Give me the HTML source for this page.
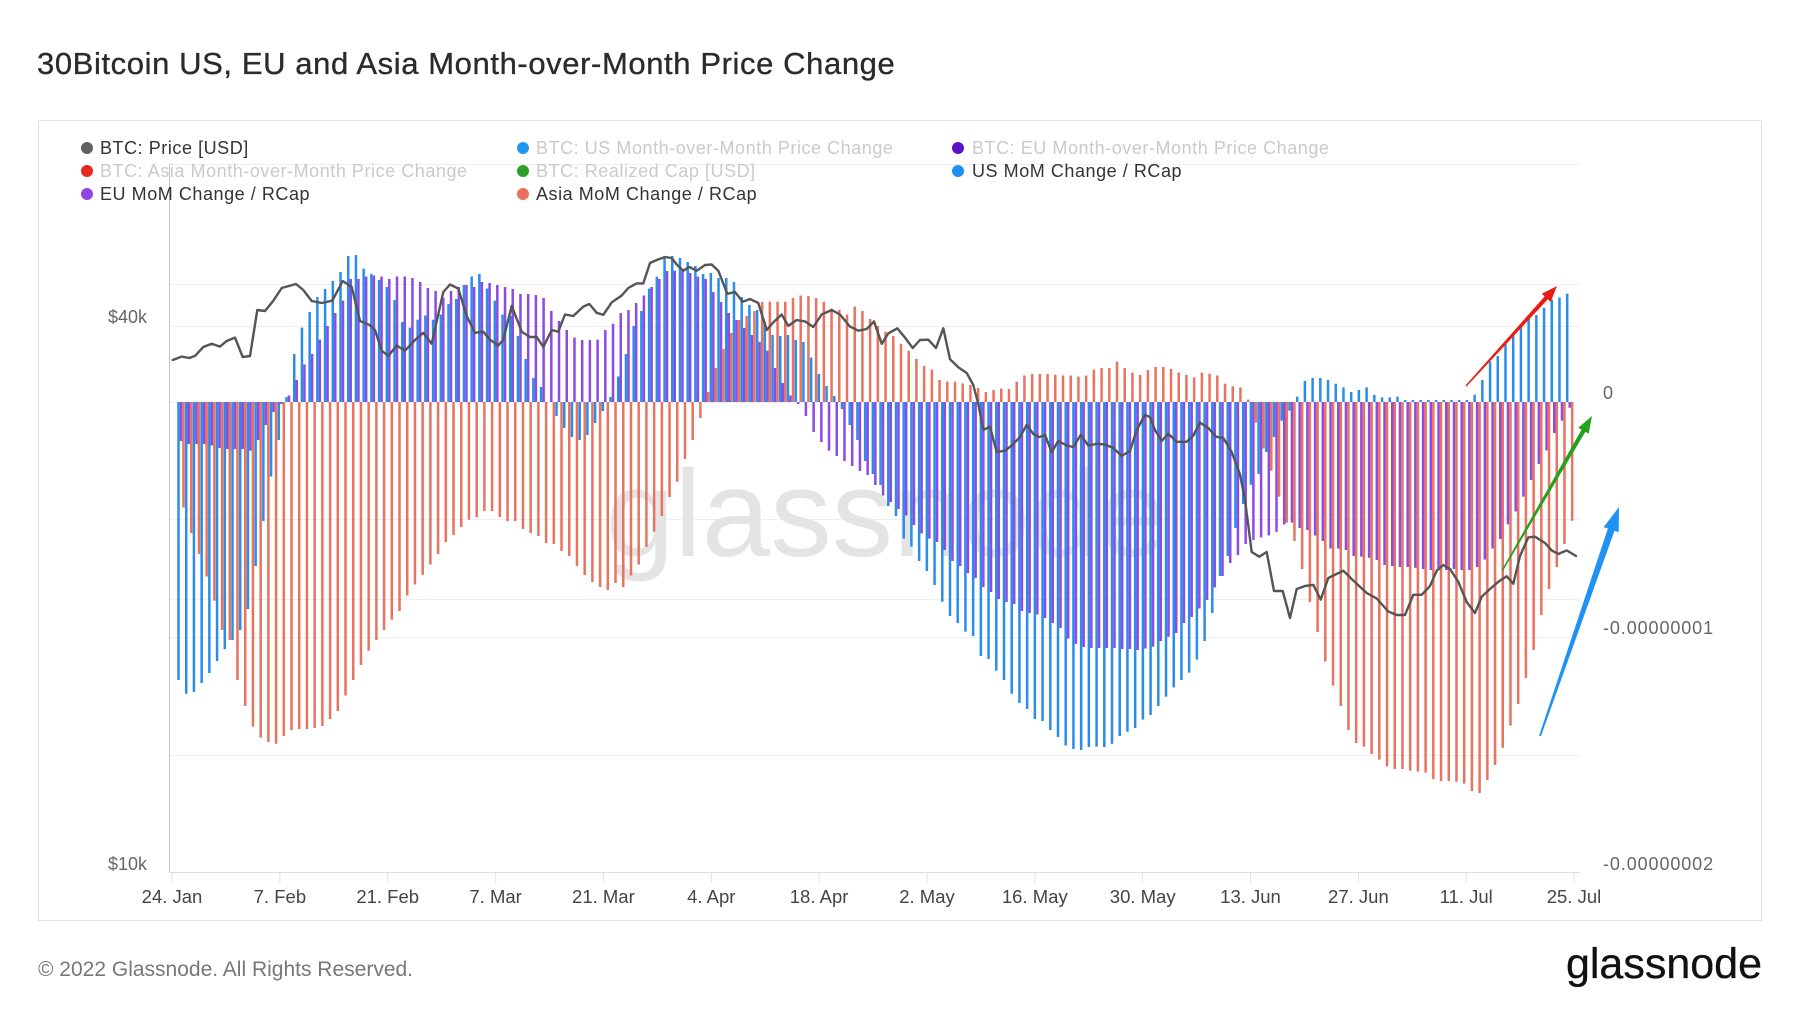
<!DOCTYPE html>
<html><head><meta charset="utf-8">
<style>
html,body{margin:0;padding:0;background:#fff;}
svg{display:block;}
text{font-family:"Liberation Sans",Arial,sans-serif;}
</style></head>
<body>
<svg id="c" xmlns="http://www.w3.org/2000/svg" width="1800" height="1013" viewBox="0 0 1800 1013">
<rect width="1800" height="1013" fill="#fff"/>
<text x="37" y="74" font-size="31" fill="#2b2b2b" letter-spacing="0.6" stroke="#2b2b2b" stroke-width="0.35">30Bitcoin US, EU and Asia Month-over-Month Price Change</text>
<rect x="38.5" y="120.5" width="1723" height="800" fill="none" stroke="#e2e2e2"/>
<g stroke="#efefef" stroke-width="1">
 <line x1="169" x2="1580" y1="164.5" y2="164.5"/>
 <line x1="169" x2="1580" y1="284.5" y2="284.5"/>
 <line x1="169" x2="1580" y1="326.5" y2="326.5"/>
 <line x1="169" x2="1580" y1="402.5" y2="402.5"/>
 <line x1="169" x2="1580" y1="519.5" y2="519.5"/>
 <line x1="169" x2="1580" y1="599.5" y2="599.5"/>
 <line x1="169" x2="1580" y1="637.5" y2="637.5"/>
 <line x1="169" x2="1580" y1="755.5" y2="755.5"/>
</g>
<text x="606" y="556" font-size="123" fill="#e4e4e4">glassnode</text>
<g id="bars"></g>
<polyline fill="none" stroke="#555" stroke-width="2.4" stroke-linejoin="round" stroke-linecap="round" points="172.7,360 181.7,356.6 189.3,358 195,355.9 203.3,347 211.7,343.8 220,346.6 226.7,341 235,337.6 242.7,357 250,356 257.3,310 265,311 273.3,300.7 281.7,288 296,284 303.3,290 311.7,301 321.7,303 332.3,300.7 342.7,281 351.7,287 360,321 369.3,324.8 375,330 381.7,350.7 388.3,356 396.7,345.5 405,350.7 415,340 423.3,332.8 431.7,343.8 443.3,292 450,284.5 458.3,288.6 466.7,316 475,332.8 483.3,331.7 490,339.7 498.3,345.5 503.3,339.7 511.7,305.9 521.7,331.7 530,337 536.7,337 543.3,347 551.7,330 558.3,331.7 565,314.5 573.3,316 583.3,306.6 589.3,304 596.7,312.8 603.3,314.8 611.7,302.4 621.7,295.5 628.3,288 636.7,283.4 643.3,283.4 650,263 656.7,260 665,257 671.7,258 676.7,264.5 683.3,270.7 689.3,267 696.7,270.7 705,265 711.7,264.5 718.3,270.7 727.3,293.8 735,292 742.7,301.7 750,299 758.3,303 766.7,330 773.3,322.4 781.7,314.5 788.3,325.9 796.7,320 805,321.4 813.3,327 821.7,314.5 831.7,310 840,314.5 850,326.6 858.3,330.7 866.7,329 874,321.4 881.7,343.8 888.3,333.4 897.3,328.3 905,337.6 912.7,348 920,340 928.3,339.7 936,348 943.3,328.3 950,359.3 958.3,367.2 966.7,373 973.3,385 978.3,404 983.3,430 990,426.6 996.7,452 1005,450.7 1011.7,445.5 1020,437 1026.7,424.8 1033.3,434 1039.3,437 1045,435 1051.7,452 1058.3,441 1066.7,445.5 1073.3,447 1080.7,435 1088.3,445.5 1096.7,443.8 1105,444.5 1113.3,448 1121.7,455.9 1130,451 1136.7,430 1145,415 1150,417 1155,430 1161.7,441 1168.3,433.7 1176.7,441.8 1186.7,441.8 1193.3,435.6 1200,422.6 1208.3,428 1216,436.7 1223.3,438 1231.7,452 1240,474.4 1245,500 1251.7,552 1259.3,556.7 1266.7,552 1274,591 1282.7,591 1290,618 1296.7,589 1305,586 1313.3,584.8 1320.7,599.6 1328.3,578 1343.3,570.7 1352.7,580 1366.7,593 1376.7,598.5 1388.3,611.5 1396.7,615 1405,615 1413.3,594.8 1421.7,594.8 1430,586 1436.7,570.7 1443.3,565 1450,569 1458.3,581.8 1466.7,602 1475,613 1481.7,596.7 1490,589 1498.3,581.8 1506.7,576.3 1513.3,583.7 1520,556 1528.3,537.4 1535,536.7 1545,543 1551.7,550.4 1558.3,554 1566.7,550.4 1576,556"/>
<line x1="169.5" x2="169.5" y1="164" y2="872" stroke="#c4c4c4" stroke-width="1"/>
<line x1="169" x2="1580" y1="872.5" y2="872.5" stroke="#dcdcdc" stroke-width="1"/>
<g stroke="#e2e2e2" stroke-width="1">
 <line x1="172" x2="172" y1="873" y2="883"/>
 <line x1="279.9" x2="279.9" y1="873" y2="883"/>
 <line x1="387.7" x2="387.7" y1="873" y2="883"/>
 <line x1="495.6" x2="495.6" y1="873" y2="883"/>
 <line x1="603.4" x2="603.4" y1="873" y2="883"/>
 <line x1="711.3" x2="711.3" y1="873" y2="883"/>
 <line x1="819.1" x2="819.1" y1="873" y2="883"/>
 <line x1="927" x2="927" y1="873" y2="883"/>
 <line x1="1034.8" x2="1034.8" y1="873" y2="883"/>
 <line x1="1142.7" x2="1142.7" y1="873" y2="883"/>
 <line x1="1250.5" x2="1250.5" y1="873" y2="883"/>
 <line x1="1358.4" x2="1358.4" y1="873" y2="883"/>
 <line x1="1466.2" x2="1466.2" y1="873" y2="883"/>
 <line x1="1574" x2="1574" y1="873" y2="883"/>
</g>
<g font-size="18.5" fill="#444" text-anchor="middle">
 <text x="172" y="903">24. Jan</text>
 <text x="279.9" y="903">7. Feb</text>
 <text x="387.7" y="903">21. Feb</text>
 <text x="495.6" y="903">7. Mar</text>
 <text x="603.4" y="903">21. Mar</text>
 <text x="711.3" y="903">4. Apr</text>
 <text x="819.1" y="903">18. Apr</text>
 <text x="927" y="903">2. May</text>
 <text x="1034.8" y="903">16. May</text>
 <text x="1142.7" y="903">30. May</text>
 <text x="1250.5" y="903">13. Jun</text>
 <text x="1358.4" y="903">27. Jun</text>
 <text x="1466.2" y="903">11. Jul</text>
 <text x="1574" y="903">25. Jul</text>
</g>
<g font-size="18" fill="#666" text-anchor="end">
 <text x="147" y="323">$40k</text>
 <text x="147" y="870">$10k</text>
</g>
<g font-size="18" fill="#666" letter-spacing="0.9">
 <text x="1603" y="399">0</text>
 <text x="1603" y="634">-0.00000001</text>
 <text x="1603" y="870">-0.00000002</text>
</g>
<g font-size="18" letter-spacing="0.55">
 <circle cx="87" cy="148" r="6" fill="#616161"/>
 <text x="100" y="154" fill="#333">BTC: Price [USD]</text>
 <circle cx="523" cy="148" r="6" fill="#2196f3"/>
 <text x="536" y="154" fill="#cacaca">BTC: US Month-over-Month Price Change</text>
 <circle cx="958" cy="148" r="6" fill="#5a12c8"/>
 <text x="972" y="154" fill="#cacaca">BTC: EU Month-over-Month Price Change</text>
 <circle cx="87" cy="171" r="6" fill="#e8281c"/>
 <text x="100" y="177" fill="#cacaca">BTC: Asia Month-over-Month Price Change</text>
 <circle cx="523" cy="171" r="6" fill="#2ca02c"/>
 <text x="536" y="177" fill="#cacaca">BTC: Realized Cap [USD]</text>
 <circle cx="958" cy="171" r="6" fill="#1e8ff5"/>
 <text x="972" y="177" fill="#333">US MoM Change / RCap</text>
 <circle cx="87" cy="194" r="6" fill="#9245e5"/>
 <text x="100" y="200" fill="#333">EU MoM Change / RCap</text>
 <circle cx="523" cy="194" r="6" fill="#ec6f5c"/>
 <text x="536" y="200" fill="#333">Asia MoM Change / RCap</text>
</g>
<g id="arrows"></g>
<text x="38" y="976" font-size="21" fill="#777">© 2022 Glassnode. All Rights Reserved.</text>
<text x="1762" y="978" font-size="43" fill="#111" text-anchor="end" stroke="#111" stroke-width="0.3">glassnode</text>
</svg>
<script>
(function(){
var NS="http://www.w3.org/2000/svg";
var us=[680,693.8,692,683,673,661,649,640,630,609,
566,521,476.6,440,397,354,327.6,312,297,289,
281,272,256,255,268.6,274,280,287,300,322,
327.6,319.7,315.5,319.7,314.5,304,299,285,276.5,274,
288.6,300.7,314.5,316,336,359,378,387,402,416,
428,437,440,435,423,411,397,376.5,354,326,
311,288.6,
276.6,257,256,258,262,266,274,273,278,278,
282,297,305,310,322,335,336,335,340,342,
357.6,374,386,396,409,425,440,461,474,485,
506,516,538.6,546.6,561,571,585,601.7,616,623,
631.7,636,656,659,670.7,680,693.8,703,709,719,
721,730,737,745.5,749,750,747,746.6,747,743.8,
736,731.7,
728,719.6,715,706,696.7,687.4,680,672.6,659.6,641,
613,576,556,528,504,484.8,474,452,437,420.7,
410.7,396.7,381,378,378,380,383.7,387.4,392,390,
387.4,394.8,397.4,397.4,396.7,400,400,400,400,400,
400,400,400,400,394.8,380,361.5,356,343,333,
324.4,318,315,307.8,299.6,297.4,293.7];
var eu=[441,444,444,444,445.5,448,449,449,449,450.7,
440,425,412,404,
395.5,380,364.5,354,339.7,326,313,300.7,279,279,
276.5,275.5,276.5,279,276.5,276.5,278,282,288,291,
298,291,287,285,287,282,283,285,287,289,
294,294,295,298,311,321,330,337.6,340,340,
339.7,330,323.8,313,310,303,295.5,287,
279,271,270.7,271,273,276.6,279,292,302,313,
320,328,335,342,350.7,368,383,395.5,
404,416,432,442,450.7,456,461,466,471,475,
485,495.5,502,509,515.5,525,533.4,538.6,542,550,
561,566,573,578,587,592,599,602,604,611,
613,614.5,618,623,628,638.6,643.8,647,648,648,
648,648,649,649,
650,648.5,646.7,641,636.7,633,623,617,608.5,600,
587.4,576,563,555,544,540,537.4,535.5,531.8,524.4,
522.6,528,530,535.5,541,548.5,548.5,550,556,556.7,
557.8,560,565,566,567,567,567.8,569,570,570,
570,569,570,570,567,559.6,548.5,539,524.4,511.5,
496.7,480,464,450.4,433,420.7,407.8];
var asia=[507.6,533,554,576.5,600.7,630,640,680,706,726.6,
737.6,742,743.8,736,730,729,729,728,726,719,
711,695.5,680,665,650.7,640,630,619.7,611,595.5,
584.5,574.8,564.5,554,542,535,527,519.7,517,511,
511,517,521,521,529,533,536,543,544,551,
556,566,575,582,587,590,583,587,575.5,564.5,
547,
531.7,516,497,481.7,459,440,418,392,368,349,
333,320,316,311,302,301.7,301.7,301.7,298,295.5,
296,298,301.7,308.6,310,314.5,306.6,311,319,326,
331.7,336,343.8,350.7,359,366,369.7,380,381.7,381.7,
383.4,385,388,392,390,388.6,389,381.7,375.5,374,
374,374,374.8,375.5,375.5,376.6,375.5,369.7,368,368,
361.7,368,
372.6,375,370,367,367,369,372.6,375,377.4,372.6,
373.7,375.5,383.7,386.3,387.4,399.6,422.6,448.5,470.7,496.7,
522.6,541,569,602,632,661.5,685.5,706,730,743,
746.7,754,759.6,766.3,769,769,770.7,771.5,772.6,779,
781,781,781.8,783.7,791,793,780,765,747.8,725.6,
704,678,650,615,589,567,544,520.7];
var cols=["#2a8dec","#8c4be1","#e8735f"];
var series=[us,eu,asia];
var g=document.getElementById("bars");
var Y0=402;
for(var i=0;i<181;i++){
  var c=181+7.715*i;
  for(var k=0;k<3;k++){
    var v=series[k][i];
    if(v===undefined) continue;
    var hh=Math.abs(v-Y0);
    if(hh<0.3) continue;
    var r=document.createElementNS(NS,"rect");
    r.setAttribute("x",(c-3.75+2.5*k).toFixed(2));
    r.setAttribute("y",Math.min(v,Y0).toFixed(2));
    r.setAttribute("width","2.5");
    r.setAttribute("height",hh.toFixed(2));
    r.setAttribute("fill",cols[k]);
    g.appendChild(r);
  }
}
function arrow(x1,y1,x2,y2,w0,w1,hl,hw,col){
  var dx=x2-x1,dy=y2-y1,L=Math.sqrt(dx*dx+dy*dy),ux=dx/L,uy=dy/L,nx=-uy,ny=ux;
  var bx=x2-ux*hl,by=y2-uy*hl;
  var p=[[x1+nx*w0,y1+ny*w0],[bx+nx*w1,by+ny*w1],[bx+nx*hw,by+ny*hw],[x2,y2],
         [bx-nx*hw,by-ny*hw],[bx-nx*w1,by-ny*w1],[x1-nx*w0,y1-ny*w0]];
  var s=p.map(function(q){return q[0].toFixed(1)+","+q[1].toFixed(1);}).join(" ");
  var e=document.createElementNS(NS,"polygon");
  e.setAttribute("points",s);e.setAttribute("fill",col);
  document.getElementById("arrows").appendChild(e);
}
arrow(1466,386,1557,286,0.7,2.2,16,6,"#e81e14");
arrow(1502,571,1592,416,0.7,2.2,17,6,"#22a11c");
arrow(1540,736,1619,507,1,3.5,24,8,"#1f93f5");
})();
</script>
</body></html>
